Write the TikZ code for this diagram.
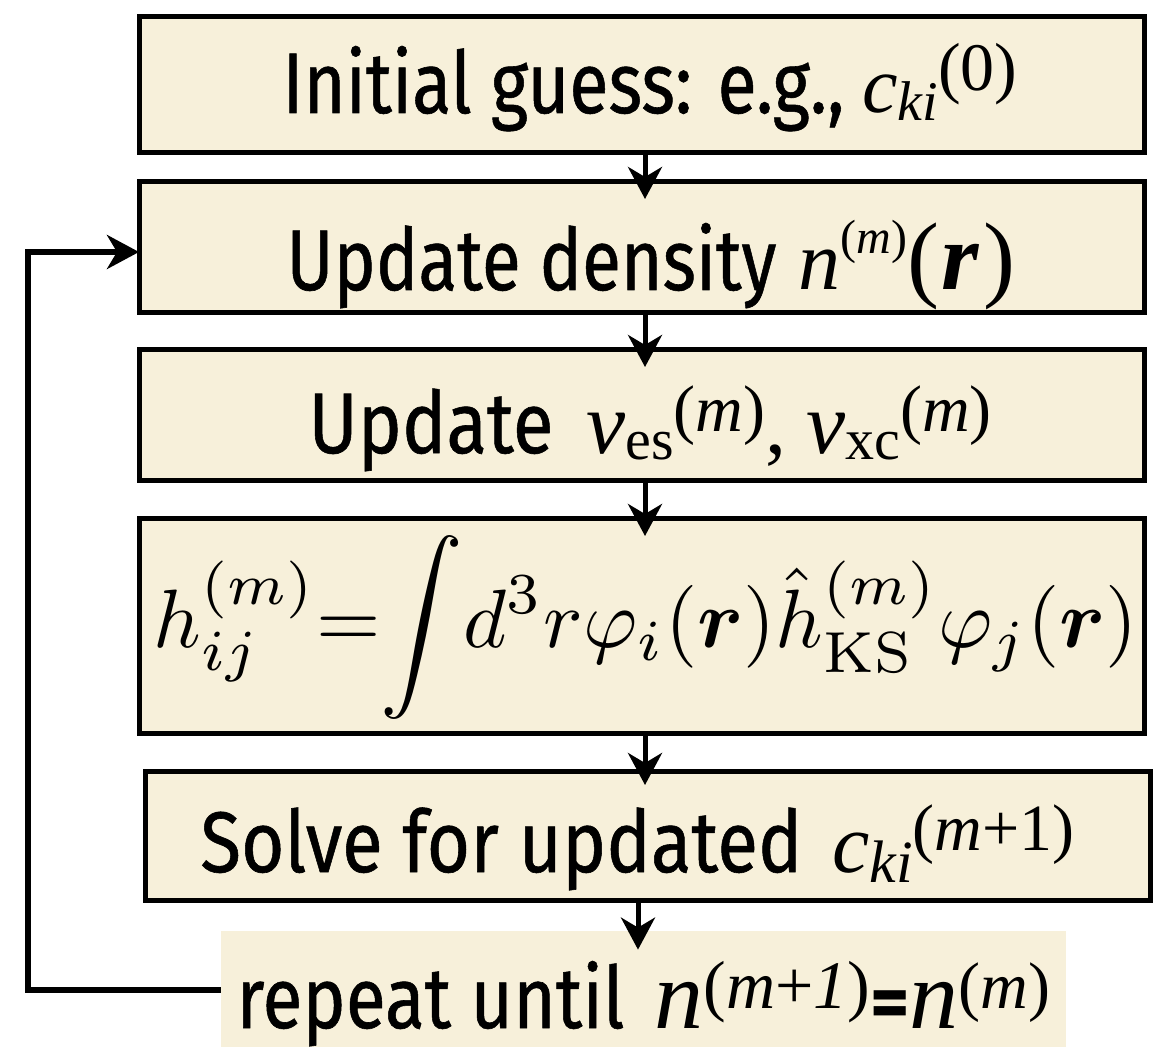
\documentclass[tikz,border=0pt]{standalone}
\usepackage[no-math]{fontspec}
\usepackage{amsmath,bm,graphicx}
\usetikzlibrary{arrows.meta,calc}
\newfontfamily\gs[FakeBold=0.7]{Fira Sans}
\newfontfamily\gsb{Fira Sans}
\newfontfamily\tms{Liberation Serif}
\newcommand\fs[1]{\fontsize{#1}{#1}\selectfont}
\definecolor{cream}{RGB}{247,240,218}
\tikzset{
  box/.style={draw=black, line width=2.5pt, fill=cream, inner sep=0pt},
  plain/.style={fill=cream, inner sep=0pt},
  lbl/.style={anchor=base west, inner sep=0pt},
  arr/.style={line width=2.5pt, -{Stealth[length=16pt,width=17pt,inset=5pt]}},
  looparr/.style={line width=3pt, -{Stealth[length=16pt,width=17pt,inset=5pt]}}
}
\begin{document}
\begin{tikzpicture}[x=0.5pt,y=-0.5pt]
\useasboundingbox (0,0) rectangle (1160,1047);
% boxes
\node[box, minimum width=502.5pt, minimum height=68pt] (b1) at (642,84.5) {};
\node[box, minimum width=502.5pt, minimum height=65.5pt] (b2) at (642,247) {};
\node[box, minimum width=502.5pt, minimum height=65.5pt] (b3) at (642,415) {};
\node[box, minimum width=502.5pt, minimum height=107.5pt] (b4) at (642,626) {};
\node[box, minimum width=502.5pt, minimum height=64.5pt] (b5) at (648,836) {};
\node[plain, minimum width=422.5pt, minimum height=58pt] (b6) at (643.5,989) {};
% labels
\node[lbl] (t1) at (282,113) {\makebox[290pt][l]{\resizebox{281pt}{\height}{\gs\fs{43}Initial guess: e.g.,}}{\tms\itshape\fs{40}c}\raisebox{-4pt}{\tms\itshape\fs{28}ki}\raisebox{11pt}{\tms\fs{34}(0)}};
\node[lbl] (t2) at (286,290) {\makebox[256pt][l]{\resizebox{245pt}{\height}{\gs\fs{43}Update density}}{\tms\itshape\fs{42}n}\raisebox{18pt}{\tms\fs{24}(\textit{m})}{\tms\fs{48}(\hspace{1pt}\textbf{\textit{r}}\hspace{2pt})}};
\node[lbl] (t3) at (308,453) {\makebox[139pt][l]{\resizebox{122.5pt}{\height}{\gs\fs{43}Update}}{\tms\itshape\fs{44}v}\raisebox{-3pt}{\tms\fs{29}es}\raisebox{11pt}{\tms\fs{33}(\textit{m})}{\tms\fs{42},}\hspace{10pt}{\tms\itshape\fs{44}v}\raisebox{-3pt}{\tms\fs{29}xc}\raisebox{11pt}{\tms\fs{33}(\textit{m})}};
\node[inner sep=0pt] (t4) at (646,627) {\resizebox{492pt}{!}{$\displaystyle h^{(m)}_{ij}\mathord{=}\mathord{\int} d^3 r \varphi_i(\bm{r}) \hat{h}^{(m)}_{\mathrm{KS}} \varphi_j(\bm{r})$}};
\node[lbl] (t5) at (200,872) {\makebox[316pt][l]{\resizebox{301pt}{\height}{\gs\fs{43}Solve for updated}}{\tms\itshape\fs{42}c}\raisebox{-5pt}{\tms\itshape\fs{30}ki}\raisebox{11pt}{\tms\fs{33}(\textit{m}+1)}};
\node[lbl] (t6) at (236,1028) {\makebox[209pt][l]{\resizebox{194pt}{\height}{\gs\fs{43}repeat until}}{\tms\itshape\fs{49}n}\raisebox{10pt}{\tms\fs{34}(\textit{m}+\textit{1})}{\gsb\bfseries\fs{38}=}{\tms\itshape\fs{49}n}\raisebox{10pt}{\tms\fs{33}(\textit{m})}};
% arrows
\coordinate (ax) at (645,0);
\coordinate (bx) at (638,0);
\draw[arr] (b1.south -| ax) -- ($(b2.north -| ax)+(0,20)$);
\draw[arr] (b2.south -| ax) -- ($(b3.north -| ax)+(0,20)$);
\draw[arr] (b3.south -| ax) -- ($(b4.north -| ax)+(0,20)$);
\draw[arr] (b4.south -| ax) -- ($(b5.north -| ax)+(0,16)$);
\draw[arr] (b5.south -| bx) -- ($(b6.north -| bx)+(0,19)$);
% loop back
\coordinate (lb) at (28,990);
\coordinate (lt) at (28,252);
\draw[looparr] (b6.west |- lb) -- (lb) -- (lt) -- ($(b2.west |- lt)+(2,0)$);
\end{tikzpicture}
\end{document}
